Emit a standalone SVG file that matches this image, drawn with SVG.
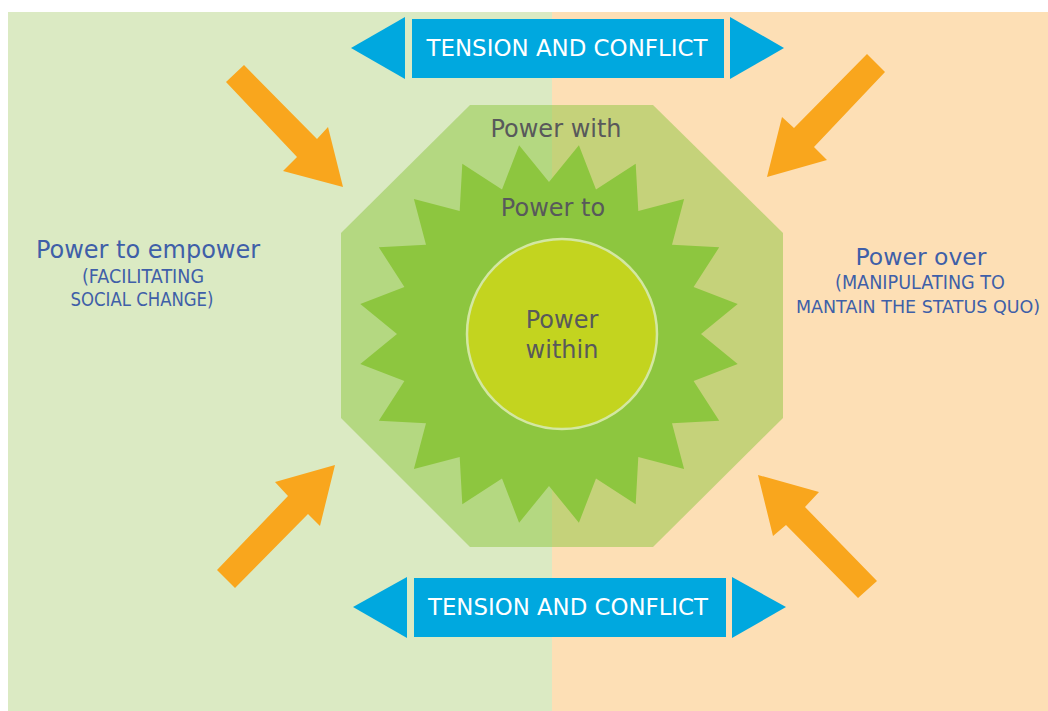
<svg xmlns="http://www.w3.org/2000/svg" width="1048" height="711" viewBox="0 0 1048 711">
<style>
.lbl{font-family:"DejaVu Sans","Liberation Sans",sans-serif;fill:#58595B;font-size:24px;text-anchor:middle}
.side{font-family:"DejaVu Sans","Liberation Sans",sans-serif;fill:#3F5FA8;text-anchor:middle}
.sub{font-size:19px}
.ban{font-family:"DejaVu Sans","Liberation Sans",sans-serif;fill:#FFFFFF;font-size:23.5px;text-anchor:middle}
.blue{fill:#00A8DF}
.orange{fill:#F9A61D}
</style>
<rect width="1048" height="711" fill="#FFFFFF"/>
<g id="background">
<rect x="8" y="12" width="544" height="699" fill="#DBEAC3"/>
<rect x="552" y="12" width="496" height="699" fill="#FDDFB5"/>
</g>
<g id="power-with">
<polygon points="470,105 653,105 783,233 783,418 653,547 470,547 341,418 341,233" fill="#8DC63F" fill-opacity="0.5"/>
<text class="lbl" x="556" y="137">Power with</text>
</g>
<g id="power-to">
<polygon fill="#8DC63F" points="549,182 578.9,145.3 596,189.4 635.7,163.8 638.3,211 684.1,198.9 672,244.7 719.2,247.3 693.6,287 737.7,304.1 701,334 737.7,363.9 693.6,381 719.2,420.7 672,423.3 684.1,469.1 638.3,457 635.7,504.2 596,478.6 578.9,522.7 549,486 519.1,522.7 502,478.6 462.3,504.2 459.7,457 413.9,469.1 426,423.3 378.8,420.7 404.4,381 360.3,363.9 397,334 360.3,304.1 404.4,287 378.8,247.3 426,244.7 413.9,198.9 459.7,211 462.3,163.8 502,189.4 519.1,145.3"/>
<text class="lbl" x="553" y="216">Power to</text>
</g>
<g id="power-within">
<circle cx="562" cy="334" r="95" fill="#C3D41F" stroke="#D3E7A2" stroke-width="2.5"/>
<text class="lbl" x="562" y="328">Power</text>
<text class="lbl" x="562" y="358">within</text>
</g>
<g id="power-to-empower">
<text class="side" x="148" y="258" font-size="24">Power to empower</text>
<text class="side sub" x="143" y="283" textLength="122" lengthAdjust="spacingAndGlyphs">(FACILITATING</text>
<text class="side sub" x="142" y="306" textLength="143" lengthAdjust="spacingAndGlyphs">SOCIAL CHANGE)</text>
</g>
<g id="power-over">
<text class="side" x="921" y="265" font-size="23.5">Power over</text>
<text class="side sub" x="920" y="289" textLength="170" lengthAdjust="spacingAndGlyphs">(MANIPULATING TO</text>
<text class="side" x="918" y="313" font-size="17.5">MANTAIN THE STATUS QUO)</text>
</g>
<g id="tension-top">
<polygon class="blue" points="351,48 405,17 405,79"/>
<rect class="blue" x="412" y="19" width="312" height="59"/>
<polygon class="blue" points="784,48 730,17 730,79"/>
<text class="ban" x="567" y="56" textLength="281" lengthAdjust="spacingAndGlyphs">TENSION AND CONFLICT</text>
</g>
<g id="tension-bottom">
<polygon class="blue" points="353,607 407,577 407,638"/>
<rect class="blue" x="414" y="578" width="312" height="59"/>
<polygon class="blue" points="786,607 732,577 732,638"/>
<text class="ban" x="568" y="615" textLength="280" lengthAdjust="spacingAndGlyphs">TENSION AND CONFLICT</text>
</g>
<g id="connectors">
<polygon class="orange" points="226,82 244,65 317,139 328,127 343,187 283,171 297,157"/>
<polygon class="orange" points="217,570 288,496 275,482 335,465 320,526 308,514 235,588"/>
<polygon class="orange" points="758,475 819,492 805,507 877,581 858,598 786,525 773,536"/>
<polygon class="orange" points="867,54 885,72 814,147 827,160 767,177 782,117 794,128"/>
</g>
</svg>
